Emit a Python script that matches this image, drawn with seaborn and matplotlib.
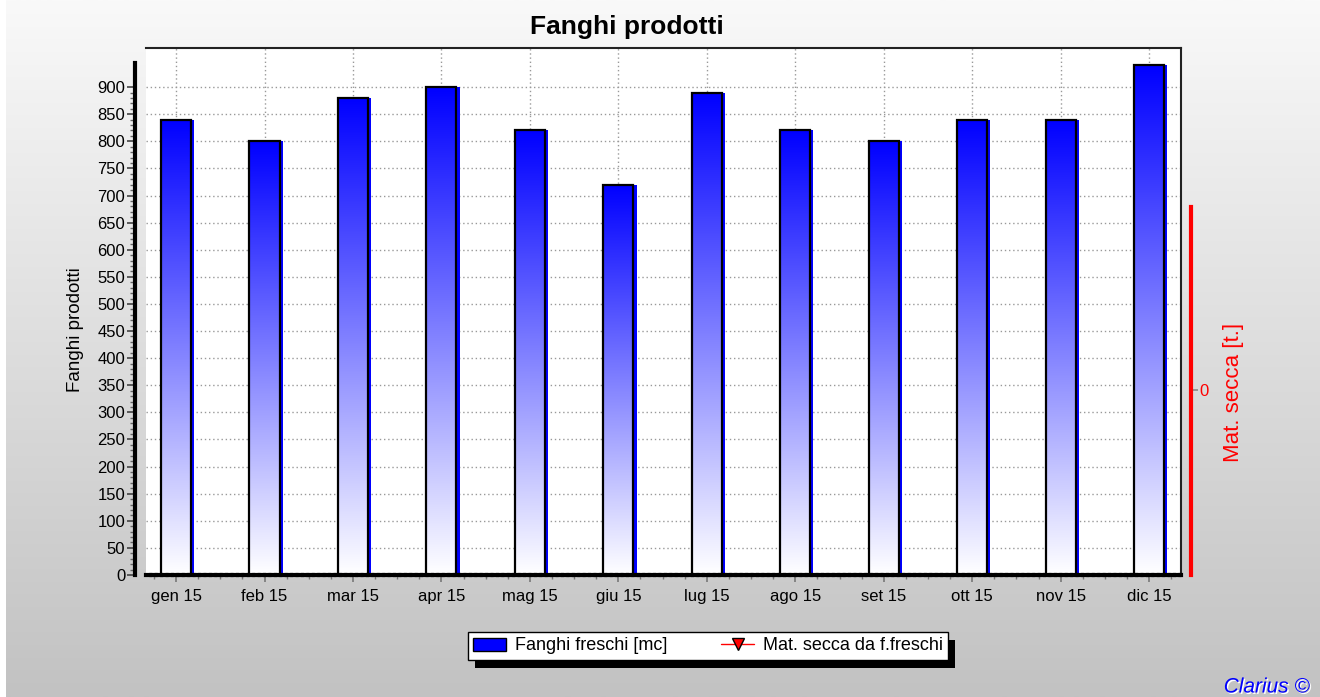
import numpy as np
import pandas as pd
import matplotlib
matplotlib.use("Agg")
import matplotlib.pyplot as plt
import seaborn as sns
from matplotlib.patches import Patch, Rectangle
from matplotlib.lines import Line2D
from matplotlib.ticker import MultipleLocator, FixedLocator
import matplotlib.patheffects as pe

months = ["gen 15", "feb 15", "mar 15", "apr 15", "mag 15", "giu 15",
          "lug 15", "ago 15", "set 15", "ott 15", "nov 15", "dic 15"]
fanghi_freschi = [840, 800, 880, 900, 820, 720, 890, 820, 800, 840, 840, 940]
mat_secca = [0] * 12

sns.set_theme(style="white")
plt.rcParams['font.family'] = ['Liberation Sans', 'DejaVu Sans']
plt.rcParams['text.color'] = 'black'
plt.rcParams['axes.labelcolor'] = 'black'
plt.rcParams['xtick.labelcolor'] = 'black'
plt.rcParams['ytick.labelcolor'] = 'black'

fig = plt.figure(figsize=(13.2, 6.97), dpi=100)

# background gradient
bg = fig.add_axes([0.0045, 0, 0.9955, 1], zorder=-10)
grad = np.linspace(0, 1, 256).reshape(-1, 1)
bg.imshow(grad, aspect="auto", cmap=matplotlib.colors.LinearSegmentedColormap.from_list(
    "bg", ["#f9f9f9", "#c2c2c2"]), extent=(0, 1, 0, 1), origin="upper")
bg.set_axis_off()

ax = fig.add_axes([0.1106, 0.175, 0.7841, 0.756])
df = pd.DataFrame({"Mese": months, "Fanghi": fanghi_freschi})

# small blue shadow to the right of each bar
ax.bar(np.arange(len(months)) + 0.035, fanghi_freschi, width=0.34, color="#0000ff",
       zorder=1.5, linewidth=0)
sns.barplot(data=df, x="Mese", y="Fanghi", ax=ax, width=0.34, color="#0000ff",
            edgecolor="black", linewidth=1.6, zorder=2)

cmap_bar = matplotlib.colors.LinearSegmentedColormap.from_list("bar", ["#0000ff", "#ffffff"])
for p in list(ax.patches):
    if p.get_zorder() != 2:
        continue
    x0, y0 = p.get_x(), p.get_y()
    w, h = p.get_width(), p.get_height()
    im = ax.imshow(grad, aspect="auto", cmap=cmap_bar, extent=(x0, x0 + w, y0, y0 + h),
                   origin="upper", zorder=2.1)
    im.set_clip_path(p)
    p.set_facecolor("none")
    p.set_zorder(2.2)

ax.set_xlim(-0.34, 11.36)
ax.set_ylim(0, 972)
ax.set_facecolor("white")
ax.set_yticks(np.arange(0, 901, 50))
ax.yaxis.set_minor_locator(FixedLocator(np.arange(0, 901, 10)))
ax.xaxis.set_minor_locator(MultipleLocator(0.25))
ax.grid(True, which="major", color="#999999", linestyle=(0, (1, 2)), linewidth=1)
ax.set_axisbelow(True)

ax.tick_params(axis="y", which="major", length=6, width=1.2, color="#444444",
               labelsize=12, pad=1, left=True)
ax.tick_params(axis="y", which="minor", length=3.5, width=1, color="#666666", left=True)
ax.tick_params(axis="x", which="major", length=5, width=1.2, color="#777777",
               labelsize=12, pad=5, bottom=True)
ax.tick_params(axis="x", which="minor", length=3, width=1, color="#777777", bottom=True)

for s in ["top", "right"]:
    ax.spines[s].set_color("#222222")
    ax.spines[s].set_linewidth(1.5)
ax.spines["left"].set_position(("outward", 8))
ax.spines["left"].set_bounds(0, 945)
ax.spines["left"].set_linewidth(3)
ax.spines["left"].set_color("black")
ax.spines["bottom"].set_linewidth(3)
ax.spines["bottom"].set_color("black")
ax.spines["bottom"].set_linestyle((0, (1, 0.3)))

ax.set_xlabel("")
ax.set_ylabel("Fanghi prodotti", fontsize=13.5)
ax.yaxis.set_label_coords(-0.060, 0.465)

fig.text(627 / 1320, 1 - 27 / 697, "Fanghi prodotti", fontsize=19, fontweight="bold",
         ha="center", va="center")

# secondary axis
ax2 = ax.twinx()
ax2.set_ylim(-0.351, 0.649)
sns.lineplot(x=np.arange(len(months)), y=mat_secca, ax=ax2, color="red", marker="v",
             visible=False, legend=False)
ax2.set_yticks([0])
ax2.tick_params(axis="y", length=5, width=1.2, color="#888888", labelcolor="red",
                labelsize=12, pad=1, right=True)
for s in ["top", "left", "bottom"]:
    ax2.spines[s].set_visible(False)
ax2.spines["right"].set_position(("outward", 7))
ax2.spines["right"].set_bounds(-0.351, 0.347)
ax2.spines["right"].set_color("red")
ax2.spines["right"].set_linewidth(3)
ax2.set_ylabel("Mat. secca [t.]", color="red", fontsize=16)
ax2.yaxis.set_label_coords(1.041, 0.347)
ax2.grid(False)

handles = [
    Patch(facecolor="#0000ff", edgecolor="black", linewidth=1),
    Line2D([0], [0], color="red", marker="v", markerfacecolor="red",
           markeredgecolor="black", markersize=9, linewidth=1),
]
leg = fig.legend(handles, ["Fanghi freschi [mc]", "Mat. secca da f.freschi"],
                 loc="center", bbox_to_anchor=(708 / 1320, 1 - 646 / 697), ncol=2,
                 fontsize=13, frameon=True, fancybox=False, shadow=False,
                 edgecolor="black", borderpad=0.3, columnspacing=3.0, handlelength=1.8,
                 handletextpad=0.5)
leg.get_frame().set_linewidth(1)
leg.get_frame().set_alpha(1)
leg.set_zorder(5)

# legend drop shadow
fig.canvas.draw()
bb = leg.get_window_extent()
W, H = fig.bbox.width, fig.bbox.height
fig.patches.append(Rectangle(((bb.x0 + 7) / W, (bb.y0 - 8) / H), bb.width / W, bb.height / H,
                             transform=fig.transFigure, facecolor="black", edgecolor="none",
                             zorder=4))

fig.text(1310 / 1320, 1 - 687 / 697, "Clarius ©", color="#0000ff", style="italic",
         fontsize=15, ha="right", va="center",
         path_effects=[pe.withSimplePatchShadow(offset=(1, -1), shadow_rgbFace="white", alpha=1)])

fig.savefig("out.png", dpi=100)
